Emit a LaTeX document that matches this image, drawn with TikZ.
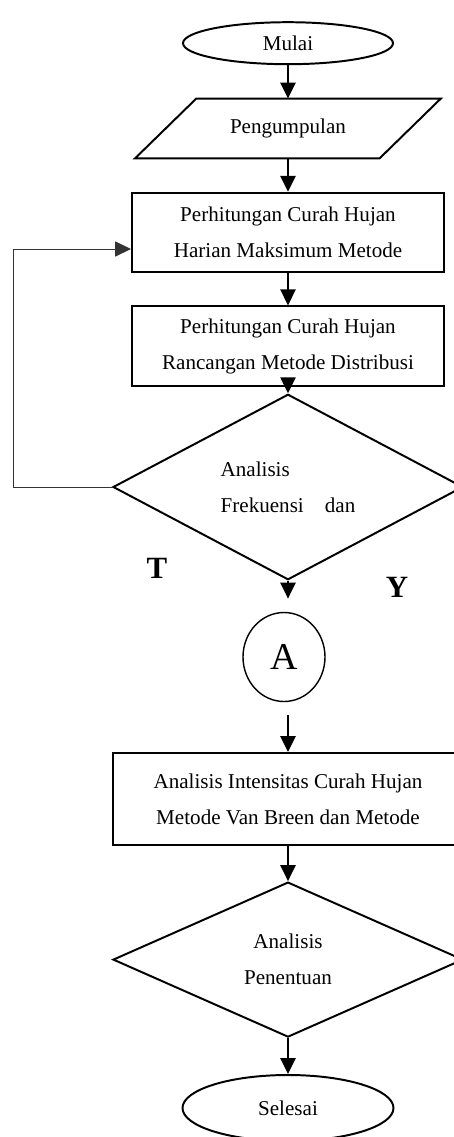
\documentclass[tikz,border=0pt]{standalone}
\usepackage{fontspec}
\setmainfont{Liberation Serif}
\usetikzlibrary{arrows.meta,shapes.geometric,calc}
\newcommand{\CX}{7.2}
\newcommand{\BW}{7.8}
\newcommand{\DW}{8.75}
\newcommand{\SL}{1.53}

\begin{document}
\begin{tikzpicture}[
    >={Triangle[length=4mm,width=3.8mm]},
    lbl/.style={font=\fontsize{15}{25.6}\selectfont, align=center},
    term/.style={ellipse, draw=black, line width=1.4pt, inner sep=0pt, lbl},
    io/.style={rectangle, inner sep=0pt, lbl},
    proc/.style={rectangle, draw=black, line width=1.4pt, inner sep=0pt, lbl},
    dec/.style={diamond, draw=black, line width=1.4pt, inner sep=0pt, lbl},
    conn/.style={ellipse, draw=black, line width=1pt, inner sep=0pt,
      font=\fontsize{27}{30}\selectfont},
    flow/.style={->, line width=1.4pt},
    back/.style={->, draw=black!80, line width=0.7pt},
    tag/.style={font=\fontsize{22}{24}\selectfont\bfseries},
  ]
  \useasboundingbox (0,0) rectangle (11.35,-28.425);

  %% main column, top to bottom
  \node[term, minimum width=5.25cm, minimum height=1.05cm] (mulai) at (\CX,-1.08) {Mulai};
  \node[io, minimum width=7.63cm, minimum height=1.48cm] (kumpul) at (\CX,-3.21) {Pengumpulan};
  % input box: parallelogram leaning right
  \draw[line width=1.4pt, line join=miter] (kumpul.south west) -- ($(kumpul.north west)+(\SL,0)$)
    -- (kumpul.north east) -- ($(kumpul.south east)+(-\SL,0)$) -- cycle;
  \node[proc, minimum width=\BW cm, minimum height=1.98cm] (hitung1) at (\CX,-5.81)
    {Perhitungan Curah Hujan\\Harian Maksimum Metode};
  \node[proc, minimum width=\BW cm, minimum height=1.98cm] (hitung2) at (\CX,-8.65)
    {Perhitungan Curah Hujan\\Rancangan Metode Distribusi};
  \node[dec, minimum width=\DW cm, minimum height=4.05cm, align=left] (frek) at (\CX,-12.175)
    {Analisis\\Frekuensi\quad dan};
  \node[conn, minimum width=2.05cm, minimum height=2.225cm] (konA) at (7.1,-16.425) {A};
  \node[proc, minimum width=\DW cm, minimum height=2.3cm] (intens) at (\CX,-19.975)
    {Analisis Intensitas Curah Hujan\\Metode Van Breen dan Metode};
  \node[dec, minimum width=\DW cm, minimum height=3.875cm] (tentu) at (\CX,-23.99)
    {Analisis\\Penentuan};
  \node[term, minimum width=5.275cm, minimum height=1.65cm] (selesai) at (\CX,-27.7) {Selesai};

  %% branch labels
  \node[tag] (labT) at (3.925,-14.2) {T};
  \node[tag] (labY) at (9.925,-14.675) {Y};

  %% arrows
  \draw[flow] (mulai) -- (kumpul);
  \draw[flow] (kumpul) -- (hitung1);
  \draw[flow] (hitung1) -- (hitung2);
  \draw[flow] (hitung2) -- (frek);
  \draw[flow, shorten >=0.33cm] (frek.south) -- (frek.south |- konA.north);
  \draw[flow, shorten <=0.32cm] (konA.south -| intens.north) -- (intens.north);
  \draw[flow] (intens) -- (tentu);
  \draw[flow] (tentu) -- (selesai);

  % loop back from the decision to the first calculation
  \coordinate (balik) at (0.325,-12.175);
  \draw[back] (frek.west) -- (balik) |- ($(hitung1.west)+(0,-0.415)$);

\end{tikzpicture}
\end{document}
